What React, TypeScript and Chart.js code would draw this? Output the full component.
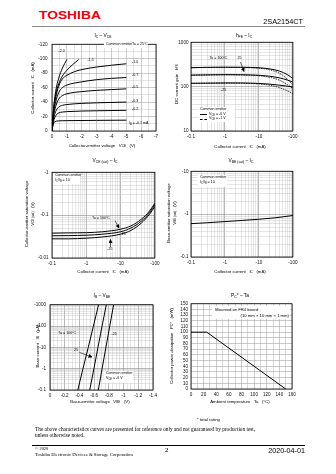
import React, { useEffect, useRef } from 'react';
import { Chart, registerables } from 'chart.js';
Chart.register(...registerables);

const SANS = '"Liberation Sans", Arial, Helvetica, sans-serif';
const SERIF = '"Liberation Serif", "Times New Roman", serif';

// ===== IC – VCE (Ta = 25°C), one curve per IB =====
const vceIbM20 = [0, -0.1, -0.25, -0.45, -0.7, -1.0];
const icIbM20 = [0, -30, -55, -73, -87, -99];
const vceIbM15 = [0, -0.1, -0.25, -0.45, -0.7, -1.0, -1.4, -1.8];
const icIbM15 = [0, -28, -50, -65, -76, -84, -92, -99];
const vceIbM10 = [0, -0.1, -0.25, -0.45, -0.7, -1, -1.5, -2, -3, -4, -5];
const icIbM10 = [0, -26, -46, -62, -72, -77, -82, -85, -88.5, -91, -93];
const vceIbM07 = [0, -0.1, -0.25, -0.45, -0.7, -1, -2, -3, -4, -5];
const icIbM07 = [0, -23, -40, -53, -60, -63.5, -68, -71, -72.8, -74];
const vceIbM05 = [0, -0.1, -0.25, -0.45, -0.7, -1, -2, -3, -4, -5];
const icIbM05 = [0, -20, -34, -44, -49, -51.5, -54.5, -56.2, -57.3, -58.3];
const vceIbM03 = [0, -0.1, -0.25, -0.45, -0.7, -1, -2, -3, -5];
const icIbM03 = [0, -16, -27, -33, -35.5, -36.6, -38.2, -39, -40];
const vceIbM02 = [0, -0.1, -0.25, -0.45, -0.7, -1, -3, -5];
const icIbM02 = [0, -13, -21, -25, -26.2, -26.8, -28, -28.6];
const vceIbM01 = [0, -0.05, -0.1, -0.2, -0.45, -1, -5];
const icIbM01 = [0, -7, -10.5, -13, -14, -14.3, -15];

// ===== hFE – IC =====
const hfeIc = [0.1, 0.3, 1, 3, 10, 20, 40, 70, 100];
const hfe100V6 = [268, 272, 274, 273, 266, 252, 225, 185, 152];
const hfe100V1 = [266, 270, 272, 270, 260, 240, 200, 145, 108];
const hfe25V6 = [182, 184, 186, 185, 180, 172, 158, 140, 127];
const hfe25V1 = [180, 183, 185, 183, 176, 163, 140, 110, 90];
const hfeM25V6 = [119, 120, 121, 121, 118, 114, 108, 102, 98];
const hfeM25V1 = [118, 119, 120, 119, 115, 108, 95, 80, 70];

// ===== VCE(sat) – IC =====
const satIc = [0.1, 0.3, 1, 3, 10, 20, 40, 70, 100];
const vceSat100 = [0.038, 0.0385, 0.039, 0.041, 0.047, 0.056, 0.08, 0.125, 0.19];
const vceSat25 = [0.033, 0.0333, 0.034, 0.036, 0.041, 0.05, 0.072, 0.115, 0.175];
const vceSatM25 = [0.028, 0.028, 0.029, 0.031, 0.036, 0.044, 0.065, 0.105, 0.16];

// ===== VBE(sat) – IC =====
const vbeSatIc = [0.1, 0.3, 1, 3, 10, 30, 100];
const vbeSat = [0.6, 0.63, 0.67, 0.71, 0.76, 0.82, 0.93];

// ===== IB – VBE =====
const ibVals = [0.1, 1, 10, 100, 1000];
const vbe100 = [-0.378, -0.448, -0.52, -0.59, -0.66];
const vbe25 = [-0.54, -0.597, -0.652, -0.708, -0.765];
const vbeM25 = [-0.657, -0.708, -0.76, -0.812, -0.865];

// ===== PC* – Ta =====
const taVals = [0, 25, 150];
const pcVals = [100, 100, 0];

// ---------- helpers ----------
type Tk = { value: number; major: boolean; label: string };
const fmt = (v: number) => (v === 0 ? '0' : String(v));

function linTicks(min: number, max: number, step: number, every: number): Tk[] {
  const out: Tk[] = [];
  const n = Math.round((max - min) / step);
  for (let i = 0; i <= n; i++) {
    const v = +(min + i * step).toFixed(6);
    const major = i % every === 0;
    out.push({ value: v, major, label: major ? fmt(v) : '' });
  }
  return out;
}
function logTicks(e0: number, e1: number, prefix: string): Tk[] {
  const out: Tk[] = [];
  for (let e = e0; e < e1; e++)
    for (let m = 1; m <= 9; m++) {
      const v = +(m * Math.pow(10, e)).toPrecision(4);
      out.push({ value: v, major: m === 1, label: m === 1 ? prefix + String(v) : '' });
    }
  const top = +Math.pow(10, e1).toPrecision(4);
  out.push({ value: top, major: true, label: prefix + String(top) });
  return out;
}

const PL = 22, PT = 4, PR = 7, PB = 11;

function axis(type: string, min: number, max: number, ticks: Tk[], pos: 'left' | 'bottom', pad: number, reverse = false, maj = '#8a8a8a', min2 = '#c4c4c4') {
  return {
    type, min, max, bounds: 'data', reverse, position: pos,
    afterBuildTicks: (s: any) => { s.ticks = ticks.map(t => ({ value: t.value, major: t.major })); },
    afterFit: (s: any) => { if (pos === 'left') s.width = PL; else s.height = PB; },
    ticks: {
      autoSkip: false, maxRotation: 0, minRotation: 0, padding: pad, color: '#111',
      font: { family: SANS, size: 4.6 },
      callback: (_v: any, i: number) => (ticks[i] ? ticks[i].label : ''),
    },
    grid: {
      drawTicks: false,
      color: (c: any) => (c.tick && c.tick.major ? maj : min2),
      lineWidth: (c: any) => (c.tick && c.tick.major ? 0.6 : 0.45),
    },
    border: { display: false },
  };
}
function options(x: any, y: any) {
  return {
    responsive: false, maintainAspectRatio: false, animation: false, devicePixelRatio: 1, events: [],
    layout: { padding: { top: PT, right: PR, left: 0, bottom: 0 } },
    plugins: { legend: { display: false }, tooltip: { enabled: false }, title: { display: false } },
    scales: { x, y },
  };
}
function curve(xs: number[], ys: number[], extra: any = {}) {
  return {
    data: xs.map((x, i) => ({ x, y: ys[i] })),
    borderColor: '#000', borderWidth: 1, pointRadius: 0, fill: false,
    cubicInterpolationMode: 'monotone', ...extra,
  };
}
const frame = {
  id: 'frame',
  afterDraw(chart: any) {
    const { ctx, chartArea: a } = chart;
    ctx.save();
    ctx.strokeStyle = '#000';
    ctx.lineWidth = 0.8;
    ctx.strokeRect(a.left, a.top, a.right - a.left, a.bottom - a.top);
    ctx.restore();
  },
};

type Rect = { l: number; t: number; r: number; b: number };
function Plot({ rect, make }: { rect: Rect; make: () => any }) {
  const ref = useRef<HTMLCanvasElement>(null);
  useEffect(() => {
    const chart = new Chart(ref.current as HTMLCanvasElement, make());
    return () => chart.destroy();
  }, []);
  const w = rect.r - rect.l + PL + PR;
  const h = rect.b - rect.t + PT + PB;
  return <canvas ref={ref} width={w} height={h} style={{ position: 'absolute', left: rect.l - PL, top: rect.t - PT, width: w, height: h }} />;
}

// ---------- chart configs ----------
const R1 = { l: 52, t: 41, r: 156, b: 131 };
const R2 = { l: 191, t: 41, r: 293, b: 131 };
const R3 = { l: 52, t: 170, r: 155, b: 258 };
const R4 = { l: 191, t: 170, r: 293, b: 257 };
const R5 = { l: 50, t: 302, r: 153, b: 390 };
const R6 = { l: 191, t: 302, r: 292, b: 389 };

const make1 = () => ({
  type: 'line',
  data: {
    datasets: [
      curve(vceIbM20, icIbM20), curve(vceIbM15, icIbM15), curve(vceIbM10, icIbM10), curve(vceIbM07, icIbM07),
      curve(vceIbM05, icIbM05), curve(vceIbM03, icIbM03), curve(vceIbM02, icIbM02), curve(vceIbM01, icIbM01),
    ],
  },
  options: options(
    axis('linear', -7, 0, linTicks(-7, 0, 0.5, 2), 'bottom', 2.5, true, '#a8a8a8', '#c0c0c0'),
    axis('linear', -120, 0, linTicks(-120, 0, 10, 2), 'left', 4.5, true, '#a8a8a8', '#c0c0c0'),
  ),
  plugins: [frame],
});
const dashed = { borderWidth: 0.8, borderDash: [1.5, 1] };
const make2 = () => ({
  type: 'line',
  data: {
    datasets: [
      curve(hfeIc, hfe100V6), curve(hfeIc, hfe100V1, dashed),
      curve(hfeIc, hfe25V6), curve(hfeIc, hfe25V1, dashed),
      curve(hfeIc, hfeM25V6), curve(hfeIc, hfeM25V1, dashed),
    ],
  },
  options: options(
    axis('logarithmic', 0.1, 100, logTicks(-1, 2, '-'), 'bottom', 2.5),
    axis('logarithmic', 10, 1000, logTicks(1, 3, ''), 'left', 2.5),
  ),
  plugins: [frame],
});
const make3 = () => ({
  type: 'line',
  data: { datasets: [curve(satIc, vceSat100), curve(satIc, vceSat25), curve(satIc, vceSatM25)] },
  options: options(
    axis('logarithmic', 0.1, 100, logTicks(-1, 2, '-'), 'bottom', 2.5),
    axis('logarithmic', 0.01, 1, logTicks(-2, 0, '-'), 'left', 3.5),
  ),
  plugins: [frame],
});
const make4 = () => ({
  type: 'line',
  data: { datasets: [curve(vbeSatIc, vbeSat)] },
  options: options(
    axis('logarithmic', 0.1, 100, logTicks(-1, 2, '-'), 'bottom', 2.5),
    axis('logarithmic', 0.1, 10, logTicks(-1, 1, '-'), 'left', 2.5),
  ),
  plugins: [frame],
});
const make5 = () => ({
  type: 'line',
  data: {
    datasets: [
      curve(vbe100, ibVals, { cubicInterpolationMode: 'default', tension: 0 }),
      curve(vbe25, ibVals, { cubicInterpolationMode: 'default', tension: 0 }),
      curve(vbeM25, ibVals, { cubicInterpolationMode: 'default', tension: 0 }),
    ],
  },
  options: options(
    axis('linear', -1.4, 0, linTicks(-1.4, 0, 0.05, 4), 'bottom', 2.5, true),
    axis('logarithmic', 0.1, 1000, logTicks(-1, 3, '-'), 'left', 4),
  ),
  plugins: [frame],
});
const make6 = () => ({
  type: 'line',
  data: { datasets: [curve(taVals, pcVals, { cubicInterpolationMode: 'default', tension: 0 })] },
  options: options(
    axis('linear', 0, 160, linTicks(0, 160, 10, 2), 'bottom', 2.5, false, '#a8a8a8', '#a8a8a8'),
    axis('linear', 0, 150, linTicks(0, 150, 10, 1), 'left', 3, false, '#a8a8a8', '#a8a8a8'),
  ),
  plugins: [frame],
});

// ---------- text helpers ----------
function T({ x, y, s = 3.6, a = 'l', f = SANS, rot, bold, color, children }: any) {
  const tx = a === 'c' ? '-50%' : a === 'r' ? '-100%' : '0';
  return (
    <div style={{
      position: 'absolute', left: x, top: y, fontFamily: f, fontSize: s, lineHeight: 1, whiteSpace: 'nowrap',
      color: color || '#000', fontWeight: bold ? 700 : 400,
      transform: `translate(${tx},-50%)${rot ? ` rotate(${rot}deg)` : ''}`,
    }}>{children}</div>
  );
}
function Box({ x, y, w, h }: any) {
  return <div style={{ position: 'absolute', left: x, top: y, width: w, height: h, background: '#fff' }} />;
}
function Ln({ x, y, w, style }: any) {
  return <div style={{ position: 'absolute', left: x, top: y, width: w, height: 0, borderTop: style }} />;
}
const sub = (t: string) => <sub style={{ fontSize: '0.72em', verticalAlign: '-0.25em' }}>{t}</sub>;
const TT = 4.8; // chart title size
const AT = 4.3; // axis title size

const arrows = [
  [240.5, 62, 244, 71.5],
  [115, 220.5, 119, 228],
  [110.5, 247, 110.5, 239.5],
  [79.5, 352.5, 92, 357],
];

export default function App() {
  return (
    <div style={{ position: 'absolute', left: 0, top: 0, width: 336, height: 474, background: '#fff', overflow: 'hidden' }}>
      {/* header logo (colour) */}
      <div style={{ position: 'absolute', left: 39, top: 16, fontFamily: SANS, fontWeight: 700, fontSize: 10, lineHeight: 1, color: '#e60012', transform: 'translateY(-50%) scaleX(1.38)', transformOrigin: 'left center', whiteSpace: 'nowrap' }}>TOSHIBA</div>

      <div style={{ position: 'absolute', left: 0, top: 0, width: 336, height: 474, filter: 'grayscale(1)' }}>
        <T x={303} y={21.7} s={7.3} a="r">2SA2154CT</T>
        <div style={{ position: 'absolute', left: 32, top: 26, width: 273, height: 1.3, background: '#8a8a8a' }} />

        <Plot rect={R1} make={make1} />
        <Plot rect={R2} make={make2} />
        <Plot rect={R3} make={make3} />
        <Plot rect={R4} make={make4} />
        <Plot rect={R5} make={make5} />
        <Plot rect={R6} make={make6} />

        {/* chart titles */}
        <T x={103} y={36.7} s={TT} a="c">I{sub('C')} – V{sub('CE')}</T>
        <T x={244} y={36.7} s={TT} a="c">h{sub('FE')} – I{sub('C')}</T>
        <T x={105} y={161.7} s={TT} a="c">V{sub('CE (sat)')} – I{sub('C')}</T>
        <T x={241} y={161.7} s={TT} a="c">V{sub('BE (sat)')} – I{sub('C')}</T>
        <T x={102} y={297.3} s={TT} a="c">I{sub('B')} – V{sub('BE')}</T>
        <T x={240} y={297.3} s={TT} a="c">P{sub('C')}* – Ta</T>

        {/* x axis titles */}
        <T x={102} y={146} s={AT} a="c">Collector-emitter voltage&nbsp;&nbsp;&nbsp;V{sub('CE')}&nbsp;&nbsp;&nbsp;(V)</T>
        <T x={240} y={146.5} s={AT} a="c">Collector current&nbsp;&nbsp;&nbsp;I{sub('C')}&nbsp;&nbsp;&nbsp;(mA)</T>
        <T x={103} y={271.7} s={AT} a="c">Collector current&nbsp;&nbsp;&nbsp;I{sub('C')}&nbsp;&nbsp;&nbsp;(mA)</T>
        <T x={240} y={271.7} s={AT} a="c">Collector current&nbsp;&nbsp;&nbsp;I{sub('C')}&nbsp;&nbsp;&nbsp;(mA)</T>
        <T x={100} y={402.3} s={AT} a="c">Base-emitter voltage&nbsp;&nbsp;&nbsp;V{sub('BE')}&nbsp;&nbsp;&nbsp;(V)</T>
        <T x={240} y={402} s={AT} a="c">Ambient temperature&nbsp;&nbsp;&nbsp;Ta&nbsp;&nbsp;&nbsp;(°C)</T>

        {/* y axis titles */}
        <T x={33.3} y={88} s={AT} a="c" rot={-90}>Collector current&nbsp;&nbsp;&nbsp;I{sub('C')}&nbsp;&nbsp;&nbsp;(mA)</T>
        <T x={176.5} y={84} s={AT} a="c" rot={-90}>DC current gain&nbsp;&nbsp;&nbsp;h{sub('FE')}</T>
        <T x={27} y={214} s={AT} a="c" rot={-90}>Collector-emitter saturation voltage</T>
        <T x={33} y={214} s={AT} a="c" rot={-90}>V{sub('CE (sat)')}&nbsp;&nbsp;&nbsp;(V)</T>
        <T x={169} y={213} s={AT} a="c" rot={-90}>Base-emitter saturation voltage</T>
        <T x={175} y={213} s={AT} a="c" rot={-90}>V{sub('BE (sat)')}&nbsp;&nbsp;&nbsp;(V)</T>
        <T x={38} y={346} s={AT} a="c" rot={-90}>Base current&nbsp;&nbsp;&nbsp;I{sub('B')}&nbsp;&nbsp;&nbsp;(µA)</T>
        <T x={172} y={346} s={AT} a="c" rot={-90}>Collector power dissipation&nbsp;&nbsp;&nbsp;P{sub('C')}*&nbsp;&nbsp;&nbsp;(mW)</T>

        {/* chart 1 annotations */}
        <Box x={104} y={42.5} w={44} h={5.5} />
        <T x={106} y={45.2}>Common emitter</T>
        <T x={132} y={45.2}>Ta = 25°C</T>
        <T x={58.5} y={51.5}>-2.0</T>
        <T x={87.5} y={60.5}>-1.5</T>
        <T x={132} y={63}>-1.0</T>
        <T x={132} y={76}>-0.7</T>
        <T x={132} y={88}>-0.5</T>
        <T x={132} y={102}>-0.3</T>
        <T x={132} y={110}>-0.2</T>
        <T x={129} y={124.3}>I{sub('B')} = -0.1 mA</T>

        {/* chart 2 annotations */}
        <T x={209.5} y={59.3}>Ta = 100°C</T>
        <T x={237.5} y={59.3}>25</T>
        <T x={221} y={91}>-25</T>
        <Box x={198} y={107} w={37} h={15} />
        <T x={200} y={110}>Common emitter</T>
        <Ln x={200} y={114.3} w={7} style="1px solid #000" />
        <T x={209} y={114.7}>V{sub('CE')} = -6 V</T>
        <Ln x={200} y={118.8} w={7} style="0.7px dashed #000" />
        <T x={209} y={119.2}>V{sub('CE')} = -1 V</T>

        {/* chart 3 annotations */}
        <Box x={53} y={172.5} w={27} h={11.5} />
        <T x={55} y={175.7}>Common emitter</T>
        <T x={55} y={180.7}>I{sub('C')}/I{sub('B')} = 10</T>
        <T x={92} y={219.3}>Ta = 100°C</T>
        <T x={121.7} y={235}>25</T>
        <T x={107.3} y={249.5}>-25</T>

        {/* chart 4 annotations */}
        <Box x={198} y={175} w={29} h={11.5} />
        <T x={200} y={178.3}>Common emitter</T>
        <T x={200} y={183.3}>I{sub('C')}/I{sub('B')} = 10</T>

        {/* chart 5 annotations */}
        <T x={58.3} y={334}>Ta = 100°C</T>
        <T x={74} y={351}>25</T>
        <T x={111.5} y={335}>-25</T>
        <Box x={104} y={371} w={29} h={11.5} />
        <T x={106} y={374.3}>Common emitter</T>
        <T x={106} y={379.3}>V{sub('CE')} = -6 V</T>

        {/* chart 6 annotations */}
        <Box x={212} y={305.5} w={78} h={13.5} />
        <T x={215} y={310} s={4.2}>Mounted on FR4 board</T>
        <T x={289} y={315.7} s={4.2} a="r">(10 mm × 10 mm × 1 mm)</T>

        <svg width={336} height={474} style={{ position: 'absolute', left: 0, top: 0, pointerEvents: 'none' }}>
          <defs>
            <marker id="ah" markerWidth="4" markerHeight="4" refX="3.5" refY="2" orient="auto" markerUnits="userSpaceOnUse">
              <path d="M0,0 L4,2 L0,4 z" fill="#000" />
            </marker>
          </defs>
          {arrows.map((a, i) => (
            <line key={i} x1={a[0]} y1={a[1]} x2={a[2]} y2={a[3]} stroke="#000" strokeWidth={0.6} markerEnd="url(#ah)" />
          ))}
        </svg>

        {/* footer */}
        <T x={197} y={420} s={4.3}>* total rating</T>
        <T x={35} y={430} s={5.3} f={SERIF}>The above characteristics curves are presented for reference only and not guaranteed by production test,</T>
        <T x={35} y={436} s={5.3} f={SERIF}>unless otherwise noted.</T>
        <div style={{ position: 'absolute', left: 32, top: 445.3, width: 273, height: 0.8, background: '#000' }} />
        <T x={35} y={449} s={4.4} f={SERIF}>© 2020</T>
        <T x={35} y={455} s={4.8} f={SERIF}>Toshiba Electronic Devices &amp; Storage Corporation</T>
        <T x={166.7} y={450} s={7} f={SERIF} a="c">2</T>
        <T x={305} y={450.5} s={7.2} a="r">2020-04-01</T>
      </div>
    </div>
  );
}
